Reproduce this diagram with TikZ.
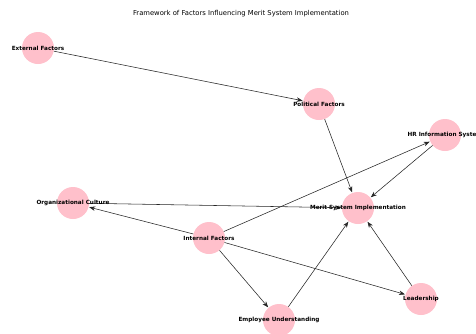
\documentclass[tikz,border=0pt]{standalone}
\usepackage{fontspec}
\setmainfont{DejaVu Sans}
\usetikzlibrary{arrows.meta}
\definecolor{nodepink}{RGB}{255,192,203}
\tikzset{
  factor/.style={circle,fill=nodepink,minimum size=32pt,inner sep=0pt},
  lbl/.style={font=\fontsize{5.7}{6.5}\selectfont\bfseries,inner sep=0pt},
  edge/.style={draw=black!85,line width=0.55pt,-{Stealth[length=6pt,width=4.5pt]},shorten >=0.5pt}
}
\begin{document}
\begin{tikzpicture}[x=1pt,y=-1pt]
\useasboundingbox (0,0) rectangle (476,333);
\clip (0,0) rectangle (476,333);
\fill[white] (0,0) rectangle (476,333);
\node[font=\fontsize{6.8}{8}\selectfont] (title) at (241,14) {Framework of Factors Influencing Merit System Implementation};
\node[factor] (ext) at (38,48) {};
\node[factor] (pol) at (319,104) {};
\node[factor] (hr) at (445,135) {};
\node[factor] (org) at (73,203) {};
\node[factor] (msi) at (358,208) {};
\node[factor] (int) at (209,238) {};
\node[factor] (lead) at (421,299) {};
\node[factor] (emp) at (279,320) {};
\draw[edge] (ext) -- (pol);
\draw[edge] (pol) -- (msi);
\draw[edge] (hr) -- (msi);
\draw[edge] (int) -- (hr);
\draw[edge] (org) -- (msi);
\draw[edge] (int) -- (org);
\draw[edge] (int) -- (emp);
\draw[edge] (int) -- (lead);
\draw[edge] (emp) -- (msi);
\draw[edge] (lead) -- (msi);
\node[lbl] (extl) at (ext) {External Factors};
\node[lbl] (poll) at (pol) {Political Factors};
\node[lbl] (hrl) at (hr) {HR Information System};
\node[lbl] (orgl) at (org) {Organizational Culture};
\node[lbl] (msil) at (msi) {Merit System Implementation};
\node[lbl] (intl) at (int) {Internal Factors};
\node[lbl] (leadl) at (lead) {Leadership};
\node[lbl] (empl) at (emp) {Employee Understanding};
\end{tikzpicture}
\end{document}
